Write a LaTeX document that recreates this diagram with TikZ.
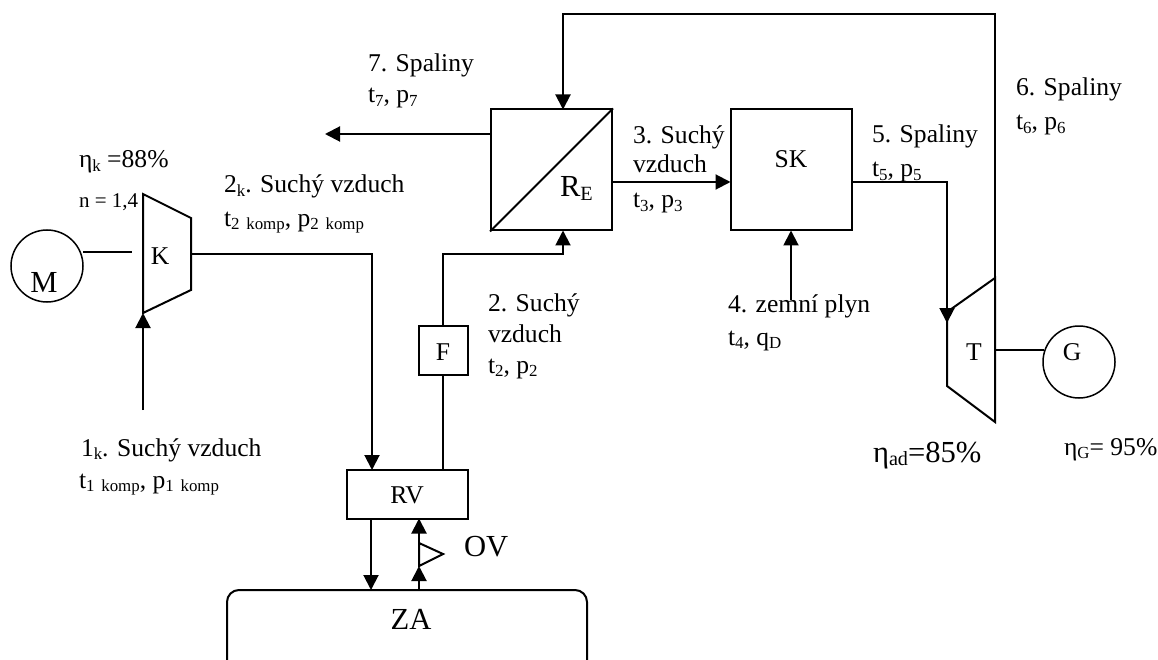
\documentclass[tikz,border=0pt]{standalone}
\usepackage{fontspec}
\setmainfont{Liberation Serif}
\usetikzlibrary{arrows.meta,calc}
\newcommand{\lbl}[4]{\node[txt,#1] (#2) at (#3) {#4};}
\newcommand{\sbs}[1]{\raisebox{-0.12em}{\scalebox{0.66}{#1}}}
\tikzset{
 x=1pt,y=-1pt,
 txt/.style={anchor=base west,inner sep=0,font=\fontsize{25.6}{26}\selectfont},
 sm/.style={font=\fontsize{21}{21}\selectfont},
 big/.style={font=\fontsize{30.6}{31}\selectfont},
 box/.style={draw,rectangle,inner sep=0},
 circ/.style={draw,circle,inner sep=0,minimum size=72pt,line width=1.5pt},
 flow/.style={-{Triangle[length=15pt,width=15pt]}},
}
\begin{document}
\begin{tikzpicture}[line width=2pt]
\useasboundingbox (0,0) rectangle (1158,660);
% equipment
\node[circ] (M) at (47,266) {};
\node[circ] (G) at (1079,362) {};
\node[box,minimum width=121pt,minimum height=121pt] (RE) at (551.5,170) {};
\node[box,minimum width=121pt,minimum height=121pt] (SK) at (791,170) {};
\node[box,minimum width=121pt,minimum height=49pt] (RV) at (407,494) {};
\node[box,minimum width=49pt,minimum height=49pt] (F) at (443,350) {};
\node[box,rounded corners=12pt,minimum width=360pt,minimum height=84pt] (ZA) at (407,632) {};
\draw (RE.south west) -- (RE.north east);
% trapezoids
\coordinate (K1) at (143,194); \coordinate (K2) at (191,218);
\coordinate (K3) at (191,290); \coordinate (K4) at (143,313);
\draw (K1) -- (K2) -- (K3) -- (K4) -- cycle;
\coordinate (T1) at (995,278); \coordinate (T2) at (995,422);
\coordinate (T3) at (947,386); \coordinate (T4) at (947,312);
\draw (T1) -- (T2) -- (T3) -- (T4) -- cycle;
% OV valve
\coordinate (V1) at (419,543); \coordinate (V2) at (443,554); \coordinate (V3) at (419,566);
\draw (V1) -- (V2) -- (V3) -- cycle;
% connection points
\coordinate (Mr) at (83,252); \coordinate (Kl) at (132,252);
\coordinate (Kr) at (191,254); \coordinate (RVa) at (372,470); \coordinate (RVb) at (443,470);
\coordinate (Fb) at (443,374.5); \coordinate (Ft) at (443,325.5);
\coordinate (REb) at (563,230.5); \coordinate (REt) at (563,109.5);
\coordinate (REl) at (491,134); \coordinate (Ex) at (325,134);
\coordinate (REr) at (612,182); \coordinate (SKl) at (730.5,182);
\coordinate (SKb) at (791,230.5); \coordinate (Gas) at (791,300);
\coordinate (SKr) at (851.5,182); \coordinate (Tin) at (947,323);
\coordinate (Tout) at (995,278);
\coordinate (Air) at (143,410);
\coordinate (RVc) at (371,518.5); \coordinate (ZAa) at (371,590);
\coordinate (ZAb) at (419,590); \coordinate (RVd) at (419,518.5);
\coordinate (Tg) at (995,350); \coordinate (Gl) at (1044,350);
% connectors
\draw (Mr) -- (Kl);
\draw[flow] (Air) -- (K4);
\draw[flow] (Kr) -| (RVa);
\draw (RVb) -- (Fb);
\draw[flow] (Ft) |- (443,254) -| (REb);
\draw[flow] (REl) -- (Ex);
\draw[flow] (REr) -- (SKl);
\draw[flow] (Gas) -- (SKb);
\draw[flow] (SKr) -| (Tin);
\draw[flow] (Tout) |- (563,14) -- (REt);
\draw[flow] (RVc) -- (ZAa);
\draw[flow] (V1) -- (RVd);
\draw[flow] (ZAb) -- (V3);
\draw (Tg) -- (Gl);
% equipment labels
\node[txt,big,anchor=base] (Mt) at (44,292) {M};
\node[txt,anchor=base] (Kt) at (160,264) {K};
\node[txt,anchor=base] (Tt) at (974,360) {T};
\node[txt,anchor=base] (Gt) at (1072,360) {G};
\node[txt,anchor=base] (Ft2) at (443,360) {F};
\node[txt,anchor=base] (RVt) at (407,503) {RV};
\node[txt,anchor=base] (SKt) at (791,168) {SK};
\node[txt,big,anchor=base] (ZAt) at (411,629) {ZA};
\lbl{big}{REt2}{559,197}{R\sbs{E}}
\lbl{big}{OVt}{463,556}{OV}
% stream labels
\lbl{}{a1}{367,72}{7. Spaliny}
\lbl{}{a2}{367,103}{t\sbs{7}, p\sbs{7}}
\lbl{}{b1}{1015,96}{6. Spaliny}
\lbl{}{b2}{1015,130}{t\sbs{6}, p\sbs{6}}
\lbl{}{c1}{632,144}{3. Suchý}
\lbl{}{c2}{632,173}{vzduch}
\lbl{}{c3}{632,208}{t\sbs{3}, p\sbs{3}}
\lbl{}{d1}{871,143}{5. Spaliny}
\lbl{}{d2}{871,177}{t\sbs{5}, p\sbs{5}}
\lbl{}{e1}{223,193}{2\sbs{k}. Suchý vzduch}
\lbl{}{e2}{223,226}{t\sbs{2\hspace{0.15em} komp}, p\sbs{2\hspace{0.15em} komp}}
\lbl{}{f1}{487,311}{2. Suchý}
\lbl{}{f2}{487,342}{vzduch}
\lbl{}{f3}{487,373}{t\sbs{2}, p\sbs{2}}
\lbl{}{g1}{727,312}{4. zemní plyn}
\lbl{}{g2}{727,345}{t\sbs{4}, q\sbs{D}}
\lbl{}{h1}{80,456}{1\sbs{k}. Suchý vzduch}
\lbl{}{h2}{78,488}{t\sbs{1\hspace{0.15em} komp}, p\sbs{1\hspace{0.15em} komp}}
\lbl{}{i1}{78,168}{η\sbs{k} =88\%}
\lbl{sm}{i2}{78,208}{n = 1,4}
\lbl{big}{j1}{872,462}{η\sbs{ad}=85\%}
\lbl{}{j2}{1063,455}{η\sbs{G}= 95\%}
\end{tikzpicture}
\end{document}
